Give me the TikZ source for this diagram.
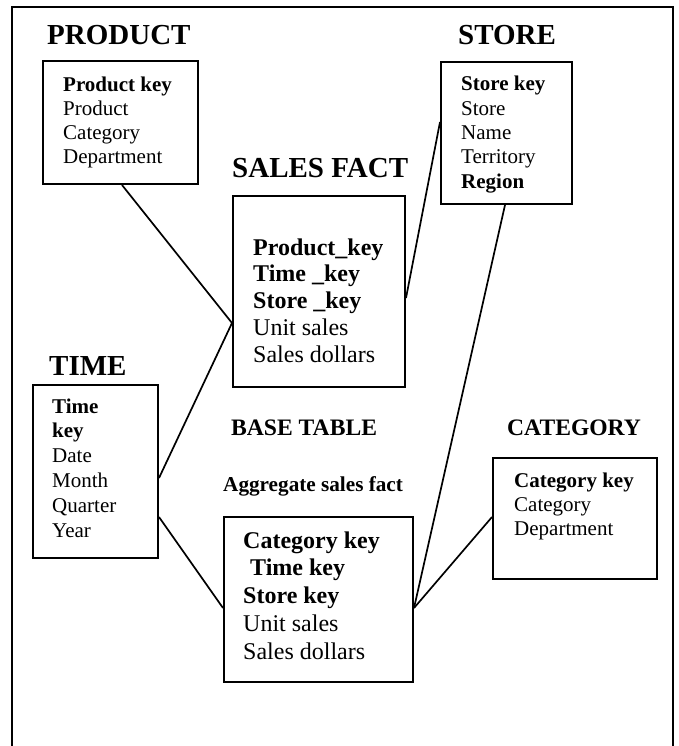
\documentclass[tikz,border=0pt]{standalone}
\usepackage{fontspec}
\setmainfont{Liberation Serif}
\usetikzlibrary{calc}
\tikzset{
  box/.style={draw, line width=2pt, inner sep=0pt, anchor=north west},
  link/.style={draw, line width=1.7pt},
  bigtitle/.style={anchor=base west, inner sep=0pt, font=\fontsize{29}{34}\selectfont\bfseries},
  midtitle/.style={anchor=base west, inner sep=0pt, font=\fontsize{23.6}{28}\selectfont\bfseries},
  smalltitle/.style={anchor=base west, inner sep=0pt, font=\fontsize{21.2}{25}\selectfont\bfseries},
  smalltxt/.style={anchor=base west, inner sep=0pt, font=\fontsize{21}{25}\selectfont},
  bigtxt/.style={anchor=base west, inner sep=0pt, font=\fontsize{24}{28}\selectfont},
}
\begin{document}
\begin{tikzpicture}[x=1pt,y=-1pt]
\useasboundingbox (0,0) rectangle (678,746);
% outer frame
\draw[line width=2pt] (11.5,750) -- (11.5,7) -- (673,7) -- (673,750);

% titles
\node[bigtitle] (tprod) at (47,45) {PRODUCT};
\node[bigtitle] (tstore) at (458,45) {STORE};
\node[bigtitle] (tsales) at (232,178) {SALES FACT};
\node[bigtitle] (ttime) at (49,375) {TIME};
\node[midtitle] (tbase) at (231,435) {BASE TABLE};
\node[smalltitle] (tagg) at (223,491) {Aggregate sales fact};
\node[midtitle] (tcat) at (507,435) {CATEGORY};

% boxes
\node[box, minimum width=155pt, minimum height=123pt] (prod) at (42,60) {};
\node[box, minimum width=131pt, minimum height=142pt] (store) at (440,61) {};
\node[box, minimum width=172pt, minimum height=191pt] (sales) at (232,195) {};
\node[box, minimum width=125pt, minimum height=173pt] (time) at (32,384) {};
\node[box, minimum width=189pt, minimum height=165pt] (agg) at (223,516) {};
\node[box, minimum width=164pt, minimum height=121pt] (cat) at (492,457) {};

% product text
\node[smalltxt] (p1) at (63,92) {\textbf{Product key}};
\node[smalltxt] (p2) at (63,115.9) {Product};
\node[smalltxt] (p3) at (63,139.8) {Category};
\node[smalltxt] (p4) at (63,163.7) {Department};

% store text
\node[smalltxt] (s1) at (461,91) {\textbf{Store key}};
\node[smalltxt] (s2) at (461,115.25) {Store};
\node[smalltxt] (s3) at (461,139.5) {Name};
\node[smalltxt] (s4) at (461,163.75) {Territory};
\node[smalltxt] (s5) at (461,188) {\textbf{Region}};

% sales fact text
\node[bigtxt] (f1) at (253,255) {\textbf{Product\_key}};
\node[bigtxt] (f2) at (253,281.75) {\textbf{Time \_key}};
\node[bigtxt] (f3) at (253,308.5) {\textbf{Store \_key}};
\node[bigtxt] (f4) at (253,335.25) {Unit sales};
\node[bigtxt] (f5) at (253,362) {Sales dollars};

% time text
\node[smalltxt] (m1) at (52,413) {\textbf{Time}};
\node[smalltxt] (m2) at (52,437.8) {\textbf{key}};
\node[smalltxt] (m3) at (52,462.6) {Date};
\node[smalltxt] (m4) at (52,487.4) {Month};
\node[smalltxt] (m5) at (52,512.2) {Quarter};
\node[smalltxt] (m6) at (52,537) {Year};

% aggregate text
\node[bigtxt] (a1) at (243,548) {\textbf{Category key}};
\node[bigtxt] (a2) at (250,575.75) {\textbf{Time key}};
\node[bigtxt] (a3) at (243,603.5) {\textbf{Store key}};
\node[bigtxt] (a4) at (243,631.25) {Unit sales};
\node[bigtxt] (a5) at (243,659) {Sales dollars};

% category text
\node[smalltxt] (c1) at (514,487) {\textbf{Category key}};
\node[smalltxt] (c2) at (514,511) {Category};
\node[smalltxt] (c3) at (514,535) {Department};

% connectors
\draw[link] ($(prod.south west)+(80,0)$) -- ($(sales.north west)+(0,128)$);
\draw[link] ($(time.north east)+(0,94)$) -- ($(sales.north west)+(0,128)$);
\draw[link] ($(store.north west)+(0,61)$) -- ($(sales.north east)+(0,103)$);
\draw[link] ($(store.south west)+(65,0)$) -- ($(agg.north east)+(0,92)$);
\draw[link] ($(cat.north west)+(0,60)$) -- ($(agg.north east)+(0,92)$);
\draw[link] ($(time.north east)+(0,133)$) -- ($(agg.north west)+(0,92)$);
\end{tikzpicture}
\end{document}
